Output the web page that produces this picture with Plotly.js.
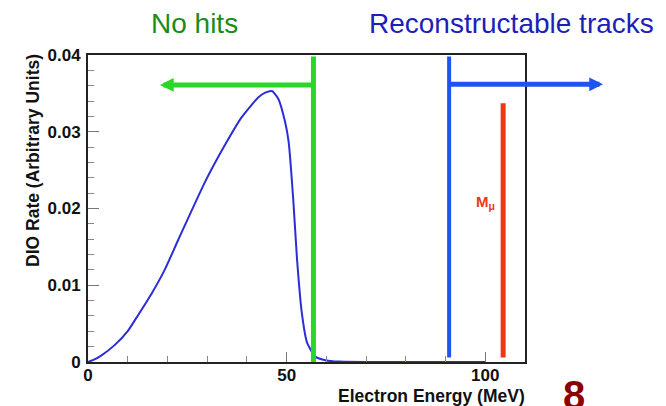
<!DOCTYPE html>
<html>
<head>
<meta charset="utf-8">
<script src="https://cdn.plot.ly/plotly-3.0.1.min.js"></script>
<style>html,body{margin:0;padding:0;background:#fff;}#chart{width:666px;height:406px;}</style>
</head>
<body>
<div id="chart"></div>
<script>
// DIO electron energy spectrum
const energyMeV = [0, 1.5, 3.4, 6.7, 10.1, 12.6, 16, 19.3, 22.7, 29.5, 34.5, 38.7, 42.9, 44.6, 46.3, 47.9, 49.6, 50.5, 51.7, 52.6, 53.8, 55.1, 57.2, 60, 63, 70, 100];
const dioRate   = [0, 0.0003, 0.00087, 0.0022, 0.0041, 0.0061, 0.0089, 0.012, 0.0159, 0.0235, 0.0283, 0.0319, 0.0345, 0.0351, 0.0353, 0.0343, 0.0313, 0.0287, 0.0209, 0.0135, 0.0065, 0.0026, 0.0007, 0.0002, 0.00005, 0, 0];

// Energy thresholds / markers (MeV)
const noHitsCut = 56.75;
const trackCut = 90.9;
const muonMass = 104.5;

const xTicks = [0, 50, 100];
const yTicks = [0, 0.01, 0.02, 0.03, 0.04];
const yTickText = ['0', '0.01', '0.02', '0.03', '0.04'];

const FONT = 'Liberation Sans, Arial, Helvetica, sans-serif';
const GREEN = 'rgb(40,215,40)';
const BLUE = 'rgb(30,85,240)';
const RED = 'rgb(240,55,30)';

const trace = {
  x: energyMeV, y: dioRate, type: 'scatter', mode: 'lines',
  line: {color: 'rgb(45,45,215)', width: 2, shape: 'spline', smoothing: 0.5}, hoverinfo: 'skip', cliponaxis: true
};

const tickFont = {family: FONT, size: 17, color: '#111', weight: 'bold'};

const layout = {
  width: 666, height: 406,
  margin: {l: 88, r: 141, t: 55, b: 44, pad: 0},
  paper_bgcolor: '#fff', plot_bgcolor: '#fff',
  showlegend: false,
  xaxis: {
    range: [0, 110], showgrid: false, zeroline: false,
    showline: true, mirror: true, linecolor: '#222', linewidth: 2,
    tickvals: xTicks, ticks: 'inside', ticklen: 10, tickwidth: 1, tickcolor: '#777',
    minor: {dtick: 10, ticks: 'inside', ticklen: 6, tickcolor: '#888', tickwidth: 1},
    tickfont: tickFont, ticklabelstandoff: -3
  },
  yaxis: {
    range: [0, 0.04], showgrid: false, zeroline: false,
    showline: true, mirror: true, linecolor: '#222', linewidth: 2,
    tickvals: yTicks, ticktext: yTickText, ticks: 'inside', ticklen: 11, tickwidth: 1, tickcolor: '#777',
    minor: {dtick: 0.002, ticks: 'inside', ticklen: 6, tickcolor: '#888', tickwidth: 1},
    tickfont: tickFont, ticklabelstandoff: 2
  },
  shapes: [
    {type: 'line', xref: 'x', yref: 'y', x0: noHitsCut, x1: noHitsCut, y0: 0, y1: 0.0398, line: {color: GREEN, width: 5}},
    {type: 'line', xref: 'x', yref: 'y', x0: trackCut, x1: trackCut, y0: 0.0006, y1: 0.0398, line: {color: BLUE, width: 4}},
    {type: 'line', xref: 'x', yref: 'y', x0: muonMass, x1: muonMass, y0: 0.0006, y1: 0.0337, line: {color: RED, width: 5}}
  ],
  annotations: [
    // green arrow (No hits, pointing left)
    {xref: 'x', yref: 'y', x: 18.1, y: 0.0361, ax: 153, ay: 0, text: '', showarrow: true,
     arrowhead: 2, arrowsize: 0.55, arrowwidth: 5, arrowcolor: GREEN, standoff: 0},
    // blue arrow (reconstructable tracks, pointing right)
    {xref: 'paper', yref: 'paper', x: 1.1785, y: 0.9046, ax: -154, ay: 0, text: '', showarrow: true,
     arrowhead: 2, arrowsize: 0.55, arrowwidth: 5, arrowcolor: BLUE, standoff: 0},
    {xref: 'paper', yref: 'paper', x: 0.2426, y: 1.104, text: 'No hits', showarrow: false,
     xanchor: 'center', yanchor: 'middle', font: {family: FONT, size: 28, color: 'rgb(25,140,25)'}},
    {xref: 'paper', yref: 'paper', x: 0.968, y: 1.104, text: 'Reconstructable tracks', showarrow: false,
     xanchor: 'center', yanchor: 'middle', font: {family: FONT, size: 28, color: 'rgb(30,30,185)'}},
    {xref: 'paper', yref: 'paper', x: 0.936, y: 0.521, text: 'M<sub>μ</sub>', showarrow: false,
     xanchor: 'right', yanchor: 'middle', font: {family: FONT, size: 15, color: RED, weight: 'bold'}},
    {xref: 'paper', yref: 'paper', x: 1.0046, y: -0.112, text: 'Electron Energy (MeV)', showarrow: false,
     xanchor: 'right', yanchor: 'middle', font: {family: FONT, size: 17.5, color: '#111', weight: 'bold'}},
    {xref: 'paper', yref: 'paper', x: -0.126, y: 0.658, text: 'DIO Rate (Arbitrary Units)', showarrow: false,
     textangle: -90, xanchor: 'center', yanchor: 'middle', font: {family: FONT, size: 17.5, color: '#111', weight: 'bold'}},
    {xref: 'paper', yref: 'paper', x: 1.112, y: -0.0293, text: '8', showarrow: false,
     xanchor: 'center', yanchor: 'top', font: {family: FONT, size: 40, color: 'rgb(140,0,0)', weight: 'bold'}}
  ]
};

Plotly.newPlot('chart', [trace], layout, {staticPlot: true, displayModeBar: false});
</script>
</body>
</html>
